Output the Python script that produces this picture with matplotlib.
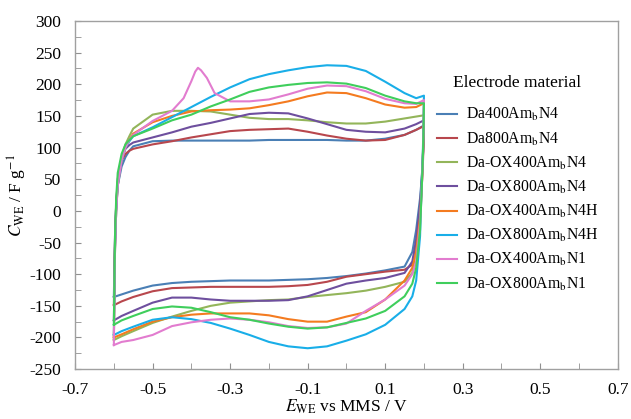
import numpy as np
import matplotlib
matplotlib.use('Agg')
import matplotlib.pyplot as plt
import matplotlib.ticker as ticker

plt.rcParams['font.family'] = ['Liberation Serif', 'DejaVu Serif']
plt.rcParams['mathtext.fontset'] = 'stix'
plt.rcParams['axes.unicode_minus'] = False

# --- Datos: barrido anódico (v_up) y catódico (v_dn) ---
v_up = [-0.6, -0.597, -0.594, -0.59, -0.58, -0.57, -0.56, -0.55, -0.5, -0.45, -0.4, -0.35,
        -0.3, -0.25, -0.2, -0.15, -0.1, -0.05, 0.0, 0.05, 0.1, 0.15, 0.18, 0.2]
v_dn = [0.2, 0.199, 0.197, 0.194, 0.19, 0.18, 0.17, 0.15, 0.1, 0.05, 0.0, -0.05,
        -0.1, -0.15, -0.2, -0.25, -0.3, -0.35, -0.4, -0.45, -0.5, -0.55, -0.58, -0.6]
v_up_pink = [-0.6, -0.597, -0.594, -0.59, -0.58, -0.57, -0.56, -0.55, -0.5, -0.45, -0.42, -0.4,
             -0.39, -0.383, -0.375, -0.36, -0.34, -0.3, -0.25, -0.2, -0.15, -0.1, -0.05, 0.0,
             0.05, 0.1, 0.15, 0.18, 0.2]

labels = [r'Da400Am$_\mathrm{b}$N4', r'Da800Am$_\mathrm{b}$N4', r'Da-OX400Am$_\mathrm{b}$N4',
          r'Da-OX800Am$_\mathrm{b}$N4', r'Da-OX400Am$_\mathrm{b}$N4H', r'Da-OX800Am$_\mathrm{b}$N4H',
          r'Da-OX400Am$_\mathrm{b}$N1', r'Da-OX800Am$_\mathrm{b}$N1']
colors = ['#4a7fb5', '#b8474d', '#93b55a', '#6e4f9e', '#f47b20', '#19aee8', '#e27ccf', '#3fce5c']

up_da400 = [-136, -40, 10, 40, 70, 85, 95, 102, 110, 111, 111, 111, 111, 111, 112, 112, 112, 112, 111, 111, 114, 120, 128, 135]
dn_da400 = [135, 110, 80, 50, 20, -30, -65, -88, -94, -99, -103, -106, -108, -109, -110, -110, -110, -111, -112, -114, -118, -126, -132, -136]
up_da800 = [-149, -45, 10, 45, 80, 90, 95, 98, 105, 110, 116, 121, 126, 128, 129, 130, 125, 119, 114, 111, 112, 120, 128, 134]
dn_da800 = [134, 105, 70, 35, 0, -55, -85, -93, -96, -100, -104, -112, -117, -119, -120, -120, -120, -120, -121, -122, -127, -136, -143, -149]
up_ox400n4 = [-204, -60, 0, 45, 85, 105, 118, 130, 152, 158, 158, 157, 152, 147, 145, 145, 143, 140, 138, 138, 141, 146, 149, 151]
dn_ox400n4 = [151, 120, 80, 40, 0, -60, -98, -112, -120, -126, -130, -133, -136, -140, -141, -143, -145, -150, -158, -167, -177, -190, -198, -204]
up_ox800n4 = [-173, -50, 10, 50, 85, 98, 104, 108, 116, 124, 133, 139, 146, 153, 155, 154, 146, 137, 128, 125, 124, 130, 137, 143]
dn_ox800n4 = [143, 115, 80, 45, 10, -45, -80, -98, -106, -110, -115, -125, -135, -141, -142, -142, -142, -140, -137, -137, -145, -158, -166, -173]
up_ox400n4h = [-200, -60, 0, 40, 80, 100, 112, 122, 140, 150, 157, 159, 160, 162, 167, 173, 181, 187, 186, 178, 168, 163, 164, 170]
dn_ox400n4h = [170, 130, 80, 30, -10, -65, -90, -110, -140, -160, -167, -175, -175, -171, -165, -162, -162, -162, -164, -168, -175, -187, -195, -200]
up_ox800n4h = [-196, -60, 0, 40, 80, 100, 110, 118, 132, 148, 164, 180, 195, 208, 216, 222, 227, 230, 229, 221, 204, 186, 178, 182]
dn_ox800n4h = [182, 140, 90, 40, -40, -110, -135, -155, -180, -195, -205, -214, -217, -214, -207, -196, -186, -177, -171, -168, -172, -183, -190, -196]
up_ox400n1 = [-212, -60, 0, 40, 80, 100, 112, 120, 142, 158, 178, 205, 220, 226, 222, 210, 186, 173, 173, 176, 184, 193, 198, 197, 189, 177, 170, 169, 175]
dn_ox400n1 = [175, 130, 80, 30, -20, -80, -100, -118, -140, -158, -178, -184, -185, -182, -176, -172, -170, -172, -176, -182, -196, -204, -207, -212]
up_ox800n1 = [-180, -40, 20, 60, 90, 105, 112, 118, 130, 143, 152, 165, 176, 188, 195, 199, 202, 203, 201, 194, 182, 173, 170, 170]
dn_ox800n1 = [170, 130, 80, 30, -30, -90, -115, -135, -158, -170, -177, -184, -186, -183, -178, -172, -168, -160, -153, -151, -155, -166, -173, -180]

series = [
    (v_up, up_da400, dn_da400),
    (v_up, up_da800, dn_da800),
    (v_up, up_ox400n4, dn_ox400n4),
    (v_up, up_ox800n4, dn_ox800n4),
    (v_up, up_ox400n4h, dn_ox400n4h),
    (v_up, up_ox800n4h, dn_ox800n4h),
    (v_up_pink, up_ox400n1, dn_ox400n1),
    (v_up, up_ox800n1, dn_ox800n1),
]

# --- Figura ---
fig = plt.figure(figsize=(6.31, 4.19), dpi=100)
ax = fig.add_axes([0.119, 0.119, 0.860, 0.831])

for (vu, cu, cd), lab, col in zip(series, labels, colors):
    v = list(vu) + list(v_dn)
    c = list(cu) + list(cd)
    ax.plot(v, c, color=col, linewidth=1.5, label=lab)

ax.set_xlim(-0.7, 0.7)
ax.set_ylim(-250, 300)
ax.xaxis.set_major_locator(ticker.FixedLocator(np.arange(-0.7, 0.71, 0.2)))
ax.xaxis.set_minor_locator(ticker.FixedLocator(np.arange(-0.6, 0.61, 0.2)))
ax.xaxis.set_major_formatter(ticker.FuncFormatter(lambda x, p: f'{x:.1f}'))
ax.yaxis.set_major_locator(ticker.MultipleLocator(50))
ax.yaxis.set_minor_locator(ticker.MultipleLocator(25))
ax.tick_params(which='both', direction='in', length=4, color='#909090', labelsize=12.5)
ax.tick_params(axis='x', pad=9)
ax.tick_params(axis='y', pad=10)
for sp in ax.spines.values():
    sp.set_color('#a0a0a0')
    sp.set_linewidth(1.0)

ax.set_xlabel(r'$E_\mathrm{WE}$ vs MMS / V', fontsize=12.5, labelpad=0)
ax.set_ylabel(r'$C_\mathrm{WE}$ / F g$^{-1}$', fontsize=12.5, labelpad=0)

leg = ax.legend(title='Electrode material', loc='upper left', bbox_to_anchor=(0.64, 0.885),
                frameon=False, fontsize=11.3, title_fontsize=12.5, handlelength=1.3,
                handletextpad=0.6, labelspacing=0.45)
leg._legend_box.sep = 11  # más espacio entre título y entradas

fig.savefig('out.png', dpi=100)
